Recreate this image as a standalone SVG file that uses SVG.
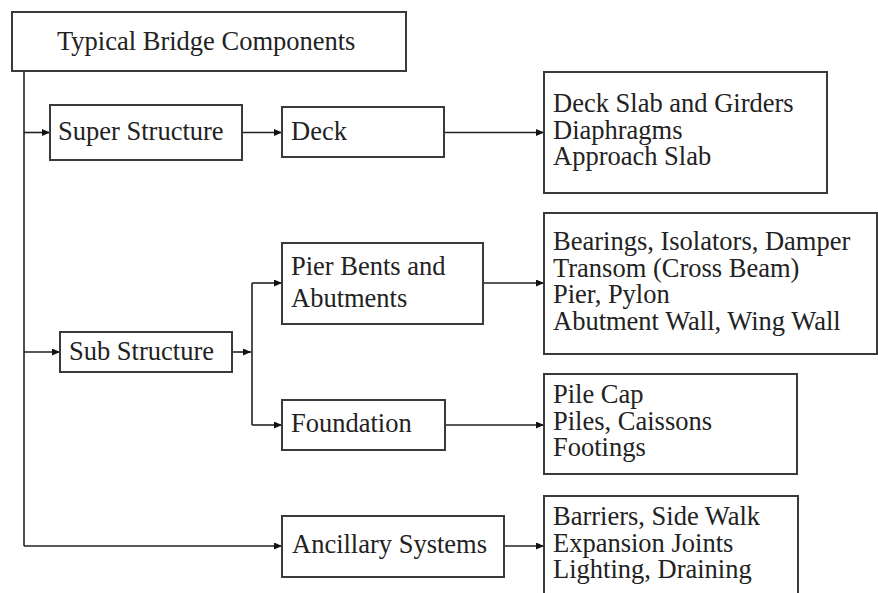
<svg xmlns="http://www.w3.org/2000/svg" width="878" height="593" viewBox="0 0 878 593">
<defs>
<marker id="ah" markerUnits="userSpaceOnUse" markerWidth="9" markerHeight="8" refX="8" refY="3.5" orient="auto">
<path d="M0,0 L8,3.5 L0,7 z" fill="#111"/>
</marker>
<style>
.box{fill:#fff;stroke:#3a3a3a;stroke-width:2}
.t{font-family:"Liberation Serif","Times New Roman",serif;font-size:26.5px;fill:#222}
.c{fill:none;stroke:#222;stroke-width:1.6}
.a{marker-end:url(#ah)}
</style>
</defs>
<rect width="878" height="593" fill="#fff"/>
<g id="connectors">
<path class="c" d="M24,71 V546"/>
<path class="c a" d="M24,132.5 H50"/>
<path class="c a" d="M242,132.5 H282"/>
<path class="c a" d="M444,132.5 H544"/>
<path class="c a" d="M24,352 H60"/>
<path class="c a" d="M232,352 H251"/>
<path class="c" d="M252,283 V425"/>
<path class="c a" d="M252,283 H282"/>
<path class="c a" d="M252,425 H282"/>
<path class="c a" d="M483,283 H544"/>
<path class="c a" d="M445,425 H544"/>
<path class="c a" d="M24,546 H282"/>
<path class="c a" d="M504,546 H544"/>
</g>
<g id="root">
<rect class="box" x="12" y="12" width="394" height="59"/>
<text class="t" x="57" y="50">Typical Bridge Components</text>
</g>
<g id="super">
<rect class="box" x="50" y="105" width="192" height="55"/>
<text class="t" x="58" y="140">Super Structure</text>
</g>
<g id="deck">
<rect class="box" x="282" y="107" width="162" height="50"/>
<text class="t" x="291" y="140">Deck</text>
</g>
<g id="deck-items">
<rect class="box" x="544" y="72" width="283" height="121"/>
<text class="t" x="553" y="112">Deck Slab and Girders</text>
<text class="t" x="553" y="139">Diaphragms</text>
<text class="t" x="553" y="165">Approach Slab</text>
</g>
<g id="sub">
<rect class="box" x="60" y="332" width="172" height="40"/>
<text class="t" x="69" y="360">Sub Structure</text>
</g>
<g id="pier">
<rect class="box" x="282" y="243" width="201" height="81"/>
<text class="t" x="291" y="275">Pier Bents and</text>
<text class="t" x="291" y="307">Abutments</text>
</g>
<g id="pier-items">
<rect class="box" x="544" y="213" width="333" height="141"/>
<text class="t" x="553" y="250">Bearings, Isolators, Damper</text>
<text class="t" x="553" y="276.5">Transom (Cross Beam)</text>
<text class="t" x="553" y="303">Pier, Pylon</text>
<text class="t" x="553" y="329.5">Abutment Wall, Wing Wall</text>
</g>
<g id="foundation">
<rect class="box" x="282" y="400" width="163" height="50"/>
<text class="t" x="291" y="432">Foundation</text>
</g>
<g id="foundation-items">
<rect class="box" x="544" y="374" width="253" height="100"/>
<text class="t" x="553" y="403">Pile Cap</text>
<text class="t" x="553" y="430">Piles, Caissons</text>
<text class="t" x="553" y="456">Footings</text>
</g>
<g id="ancillary">
<rect class="box" x="282" y="516" width="222" height="61"/>
<text class="t" x="292" y="553">Ancillary Systems</text>
</g>
<g id="ancillary-items">
<rect class="box" x="544" y="496" width="254" height="110"/>
<text class="t" x="553" y="525">Barriers, Side Walk</text>
<text class="t" x="553" y="552">Expansion Joints</text>
<text class="t" x="553" y="578">Lighting, Draining</text>
</g>
</svg>
